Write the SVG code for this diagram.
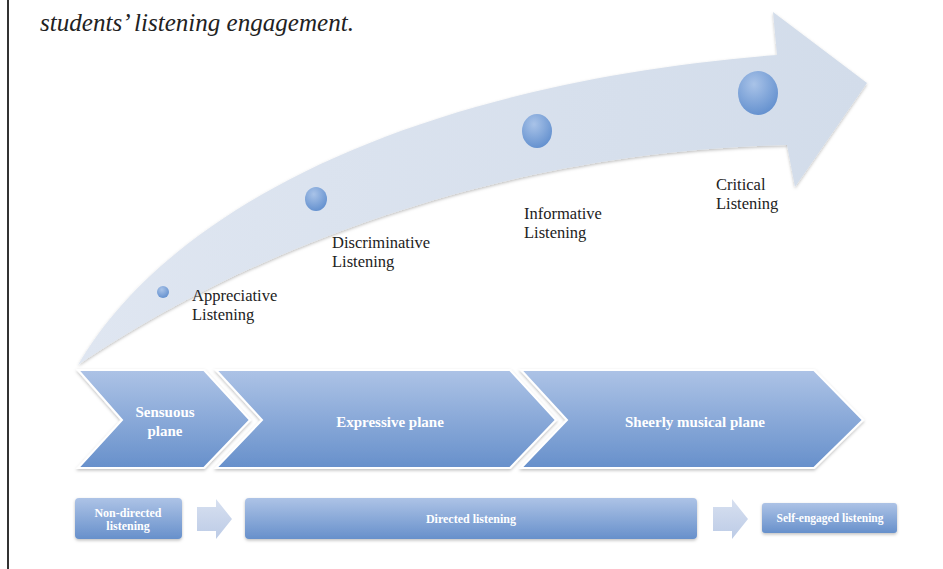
<svg xmlns="http://www.w3.org/2000/svg" width="943" height="569" viewBox="0 0 943 569">
<defs>
<linearGradient id="gArrow" x1="0" y1="0" x2="1" y2="0">
<stop offset="0" stop-color="#dfe6f1"/>
<stop offset="1" stop-color="#d2dcea"/>
</linearGradient>
<linearGradient id="gBlue" x1="0" y1="0" x2="0" y2="1">
<stop offset="0" stop-color="#adc3e6"/>
<stop offset="1" stop-color="#6790cb"/>
</linearGradient>
<linearGradient id="gLight" x1="0" y1="0" x2="0" y2="1">
<stop offset="0" stop-color="#d7e0f0"/>
<stop offset="1" stop-color="#bccbe6"/>
</linearGradient>
<radialGradient id="gDot" cx="0.4" cy="0.3" r="0.8">
<stop offset="0" stop-color="#a9c3e8"/>
<stop offset="1" stop-color="#5c8bcc"/>
</radialGradient>
<filter id="sh" x="-10%" y="-10%" width="120%" height="130%">
<feDropShadow dx="0" dy="1.5" stdDeviation="1.5" flood-color="#000" flood-opacity="0.25"/>
</filter>
</defs>
<style>
.lbl{font-family:"Liberation Serif","DejaVu Serif",serif;font-size:16.5px;fill:#222}
.wt{font-family:"Liberation Serif","DejaVu Serif",serif;font-weight:bold;fill:#fff;text-anchor:middle}
.chev{fill:url(#gBlue);stroke:#fff;stroke-width:2;filter:url(#sh)}
.box{fill:url(#gBlue);filter:url(#sh)}
.barr{fill:url(#gLight)}
.dot{fill:url(#gDot)}
</style>
<rect width="943" height="569" fill="#fff"/>
<line x1="8" y1="0" x2="8" y2="569" stroke="#333" stroke-width="2"/>
<text x="40" y="31" font-family="Liberation Serif, serif" font-style="italic" font-size="25" fill="#222" textLength="314" lengthAdjust="spacingAndGlyphs">students’ listening engagement.</text>

<g id="curve-arrow">
<path d="M78,365 C165,215 400,85 777,55 L773,12 L867,83 L795,187 L787,145 C480,152 230,262 78,365 Z" fill="url(#gArrow)" filter="url(#sh)"/>
</g>

<g id="appreciative">
<circle class="dot" cx="163" cy="292" r="6"/>
<text class="lbl" x="192" y="301">Appreciative</text>
<text class="lbl" x="192" y="320">Listening</text>
</g>
<g id="discriminative">
<ellipse class="dot" cx="316" cy="199" rx="11" ry="12"/>
<text class="lbl" x="332" y="248">Discriminative</text>
<text class="lbl" x="332" y="267">Listening</text>
</g>
<g id="informative">
<ellipse class="dot" cx="537" cy="131" rx="15" ry="17"/>
<text class="lbl" x="524" y="219">Informative</text>
<text class="lbl" x="524" y="238">Listening</text>
</g>
<g id="critical">
<ellipse class="dot" cx="758" cy="93" rx="20" ry="22"/>
<text class="lbl" x="716" y="190">Critical</text>
<text class="lbl" x="716" y="209">Listening</text>
</g>

<g id="sensuous">
<path class="chev" d="M78,370 L204,370 L250,420 L204,468 L78,468 L122,420 Z"/>
<text class="wt" x="165" y="417" font-size="15">Sensuous</text>
<text class="wt" x="165" y="436" font-size="15">plane</text>
</g>
<g id="expressive">
<path class="chev" d="M216,370 L510,370 L556,420 L510,468 L216,468 L262,420 Z"/>
<text class="wt" x="390" y="427" font-size="15">Expressive plane</text>
</g>
<g id="sheerly">
<path class="chev" d="M521,370 L814,370 L863,420 L814,468 L521,468 L567,420 Z"/>
<text class="wt" x="695" y="427" font-size="15">Sheerly musical plane</text>
</g>

<g id="non-directed">
<rect class="box" x="75" y="498" width="107" height="41" rx="4"/>
<text class="wt" x="128" y="517" font-size="12">Non-directed</text>
<text class="wt" x="128" y="530" font-size="12">listening</text>
</g>
<g id="directed">
<rect class="box" x="245" y="498" width="452" height="41" rx="4"/>
<text class="wt" x="471" y="523" font-size="12">Directed listening</text>
</g>
<g id="self-engaged">
<rect class="box" x="762" y="503" width="135" height="30" rx="3"/>
<text class="wt" x="830" y="522" font-size="11.5">Self-engaged listening</text>
</g>

<g id="connectors">
<path class="barr" d="M197,507 L216,507 L216,499 L232,519 L216,539 L216,531 L197,531 Z"/>
<path class="barr" d="M713,507 L732,507 L732,499 L748,519 L732,539 L732,531 L713,531 Z"/>
</g>
</svg>
